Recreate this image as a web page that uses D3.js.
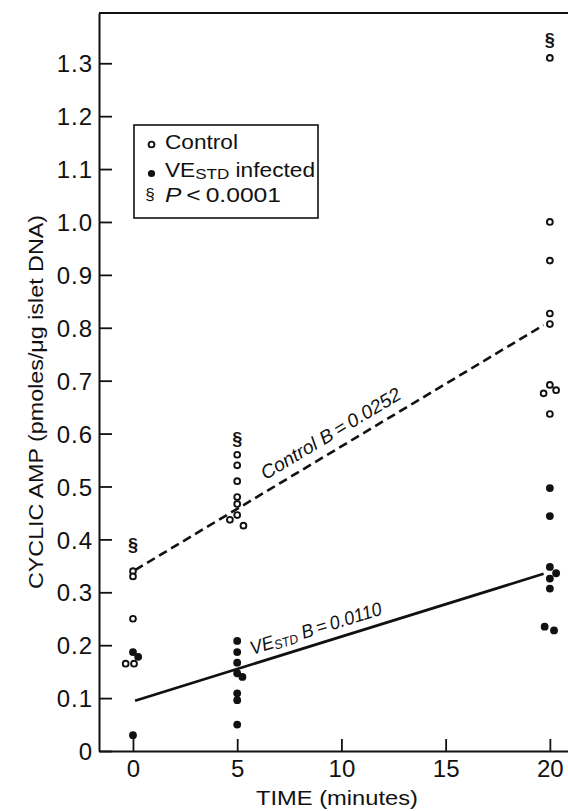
<!DOCTYPE html>
<html>
<head>
<meta charset="utf-8">
<script src="https://cdn.jsdelivr.net/npm/d3@7/dist/d3.min.js"></script>
<style>
  html, body { margin: 0; padding: 0; background: #fff; }
  svg { display: block; }
  text { font-family: "Liberation Sans", Arial, sans-serif; fill: #111; }
</style>
</head>
<body>
<svg id="chart" width="568" height="811"></svg>
<script>
// ---- data ----
const timeTicks = [0, 5, 10, 15, 20];
const yTicks = [0, 0.1, 0.2, 0.3, 0.4, 0.5, 0.6, 0.7, 0.8, 0.9, 1.0, 1.1, 1.2, 1.3];

// Control (open circles): time (with slight plotting offsets) and value
const controlT = [0, 0, 0, -0.35, 0.05,
                  5, 5, 5, 5, 5, 5, -0.35 + 5, 0.3 + 5,
                  20, 20, 20, 20, 20, -0.3 + 20, 20, 0.3 + 20, 20];
const controlV = [0.34, 0.33, 0.25, 0.165, 0.165,
                  0.56, 0.54, 0.51, 0.48, 0.467, 0.446, 0.437, 0.426,
                  1.31, 1.00, 0.927, 0.827, 0.807, 0.676, 0.692, 0.682, 0.637];

// VE_STD infected (filled circles)
const infectedT = [0, 0.25, 0,
                   5, 5, 5, 5, 5.25, 5, 5, 5,
                   20, 20, 20.3, 20, 20, 20, -0.25 + 20, 0.2 + 20];
const infectedV = [0.187, 0.178, 0.03,
                   0.208, 0.187, 0.167, 0.147, 0.14, 0.109, 0.096, 0.05,
                   0.497, 0.444, 0.336, 0.348, 0.326, 0.307, 0.235, 0.228];

// significance markers (§)
const sigT = [0, 5, 20];
const sigV = [0.39, 0.59, 1.345];

// regression lines (endpoints as drawn)
const controlFitT = [0.1, 19.7];
const controlFitV = [0.342, 0.805];
const infectedFitT = [0.1, 19.7];
const infectedFitV = [0.095, 0.335];

// ---- layout ----
const svg = d3.select("#chart");
const x = d3.scaleLinear().domain([-1.63, 20.87]).range([99, 568]);
const y = d3.scaleLinear().domain([0, 1.395]).range([751, 13]);
const fontMain = '"Liberation Sans", Arial, sans-serif';

// top border
svg.append("line")
  .attr("x1", x.range()[0]).attr("x2", x.range()[1])
  .attr("y1", y.range()[1]).attr("y2", y.range()[1])
  .attr("stroke", "#111").attr("stroke-width", 2);

// y axis
const yAxis = svg.append("g")
  .attr("transform", `translate(${x.range()[0]},0)`)
  .call(d3.axisLeft(y).tickValues(yTicks)
    .tickFormat(d => d === 0 ? "0" : d3.format(".1f")(d))
    .tickSizeInner(-13).tickSizeOuter(0).tickPadding(6));
yAxis.select(".domain").attr("stroke", "#111").attr("stroke-width", 2);
yAxis.selectAll(".tick line").attr("stroke", "#111").attr("stroke-width", 1.8);
yAxis.selectAll(".tick text").attr("font-size", 24).attr("font-family", fontMain)
  .attr("fill", "#111").attr("dy", "0.36em").attr("letter-spacing", 1);

// x axis
const xAxis = svg.append("g")
  .attr("transform", `translate(0,${y.range()[0]})`)
  .call(d3.axisBottom(x).tickValues(timeTicks)
    .tickSizeInner(-12).tickSizeOuter(0).tickPadding(9));
xAxis.select(".domain").attr("stroke", "#111").attr("stroke-width", 2);
xAxis.selectAll(".tick line").attr("stroke", "#111").attr("stroke-width", 1.8);
xAxis.selectAll(".tick text").attr("font-size", 24).attr("font-family", fontMain).attr("fill", "#111");

// axis titles
svg.append("text")
  .attr("transform", "translate(43,402) rotate(-90)")
  .attr("text-anchor", "middle")
  .attr("font-size", 20)
  .attr("textLength", 374).attr("lengthAdjust", "spacingAndGlyphs")
  .text("CYCLIC AMP (pmoles/\u03bcg islet DNA)");

svg.append("text")
  .attr("x", 337).attr("y", 805)
  .attr("text-anchor", "middle")
  .attr("font-size", 21)
  .attr("textLength", 162).attr("lengthAdjust", "spacingAndGlyphs")
  .text("TIME (minutes)");

// regression lines
const line = d3.line().x(d => x(d[0])).y(d => y(d[1]));
const cFit = controlFitT.map((t, i) => [t, controlFitV[i]]);
const iFit = infectedFitT.map((t, i) => [t, infectedFitV[i]]);
svg.append("path").attr("d", line(cFit))
  .attr("fill", "none").attr("stroke", "#111").attr("stroke-width", 2.6)
  .attr("stroke-dasharray", "9,5");
svg.append("path").attr("d", line(iFit))
  .attr("fill", "none").attr("stroke", "#111").attr("stroke-width", 2.8);

// line labels along the fits
function labelAlong(fit, tStart, offset, len, build) {
  const p0 = [x(fit[0][0]), y(fit[0][1])], p1 = [x(fit[1][0]), y(fit[1][1])];
  const ang = Math.atan2(p1[1] - p0[1], p1[0] - p0[0]) * 180 / Math.PI;
  const px = x(tStart);
  const py = p0[1] + (px - p0[0]) * (p1[1] - p0[1]) / (p1[0] - p0[0]);
  const g = svg.append("g").attr("transform", `translate(${px},${py}) rotate(${ang})`);
  const t = g.append("text").attr("x", 0).attr("y", -offset)
    .attr("font-size", 19).attr("font-style", "italic")
    .attr("textLength", len).attr("lengthAdjust", "spacingAndGlyphs");
  build(t);
}
labelAlong(cFit, 6.6, 10, 160, t => {
  t.append("tspan").text("Control ");
  t.append("tspan").text("B\u2009=\u20090.0252");
});
labelAlong(iFit, 5.85, 9, 137, t => {
  t.append("tspan").text("VE");
  t.append("tspan").attr("font-size", 13).attr("dy", 2).text("STD");
  t.append("tspan").attr("dy", -2).text(" B\u2009=\u20090.0110");
});

// points
const ctrl = controlT.map((t, i) => [t, controlV[i]]);
const inf = infectedT.map((t, i) => [t, infectedV[i]]);
svg.append("g").selectAll("circle").data(ctrl).join("circle")
  .attr("cx", d => x(d[0])).attr("cy", d => y(d[1])).attr("r", 2.9)
  .attr("fill", "#fff").attr("stroke", "#111").attr("stroke-width", 1.9);
svg.append("g").selectAll("circle").data(inf).join("circle")
  .attr("cx", d => x(d[0])).attr("cy", d => y(d[1])).attr("r", 3.9)
  .attr("fill", "#111");

// significance symbols
svg.append("g").selectAll("text").data(sigT.map((t, i) => [t, sigV[i]])).join("text")
  .attr("x", d => x(d[0])).attr("y", d => y(d[1]))
  .attr("text-anchor", "middle").attr("dy", "0.35em")
  .attr("font-size", 18).attr("font-weight", "bold")
  .text("\u00a7");

// legend
const lg = svg.append("g");
lg.append("rect").attr("x", 134).attr("y", 125).attr("width", 184).attr("height", 93)
  .attr("fill", "#fff").attr("stroke", "#111").attr("stroke-width", 1.6);
lg.append("circle").attr("cx", 151.5).attr("cy", 144.5).attr("r", 2.9)
  .attr("fill", "#fff").attr("stroke", "#111").attr("stroke-width", 1.9);
lg.append("text").attr("x", 165).attr("y", 149).attr("font-size", 20)
  .attr("textLength", 73).attr("lengthAdjust", "spacingAndGlyphs").text("Control");
lg.append("circle").attr("cx", 151.5).attr("cy", 173.5).attr("r", 3.6).attr("fill", "#111");
const l2 = lg.append("text").attr("x", 165).attr("y", 177).attr("font-size", 20)
  .attr("textLength", 150).attr("lengthAdjust", "spacingAndGlyphs");
l2.append("tspan").text("VE");
l2.append("tspan").attr("font-size", 15).attr("dy", 2).text("STD");
l2.append("tspan").attr("dy", -2).text(" infected");
lg.append("text").attr("x", 150).attr("y", 200).attr("text-anchor", "middle")
  .attr("font-size", 17).text("\u00a7");
const l3 = lg.append("text").attr("x", 165).attr("y", 202).attr("font-size", 20)
  .attr("textLength", 116).attr("lengthAdjust", "spacingAndGlyphs");
l3.append("tspan").attr("font-style", "italic").text("P");
l3.append("tspan").text("\u2009<\u20090.0001");
</script>
</body>
</html>
